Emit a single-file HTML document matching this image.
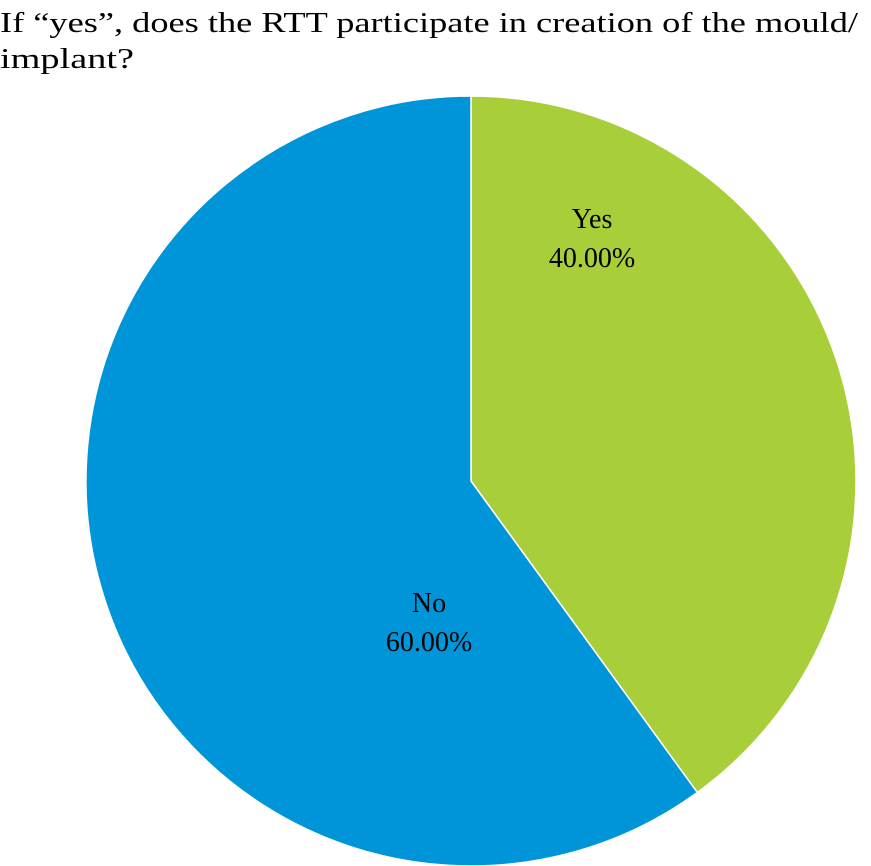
<!DOCTYPE html>
<html><head><meta charset="utf-8"><style>
html,body{margin:0;padding:0;background:#fff;width:871px;height:866px;overflow:hidden}
svg{display:block}
text{font-family:"Liberation Serif",serif}
</style></head><body>
<svg id="chart" width="871" height="866">
<text x="0" y="32" font-size="28" textLength="858" lengthAdjust="spacingAndGlyphs" fill="#000">If “yes”, does the RTT participate in creation of the mould/</text>
<text x="0" y="68" font-size="28" textLength="134" lengthAdjust="spacingAndGlyphs" fill="#000">implant?</text>
<g id="slices"></g>
</svg>
<script>
const categories = ["Yes", "No"];
const values = [40, 60];
const labels = ["40.00%", "60.00%"];
const colors = ["#a8cf3a", "#0095d9"];
const cx = 471, cy = 481, r = 385;
const labelPos = [[592, 228], [429, 612]];
const g = document.getElementById('slices');
const ns = 'http://www.w3.org/2000/svg';
const total = values.reduce((a,b)=>a+b,0);
let start = 0;
values.forEach((v,i)=>{
  const a0 = start/total*2*Math.PI, a1 = (start+v)/total*2*Math.PI;
  start += v;
  const x0 = cx + r*Math.sin(a0), y0 = cy - r*Math.cos(a0);
  const x1 = cx + r*Math.sin(a1), y1 = cy - r*Math.cos(a1);
  const large = (a1-a0) > Math.PI ? 1 : 0;
  const p = document.createElementNS(ns,'path');
  p.setAttribute('d', `M${cx},${cy} L${x0},${y0} A${r},${r} 0 ${large} 1 ${x1},${y1} Z`);
  p.setAttribute('fill', colors[i]);
  p.setAttribute('stroke', '#fff');
  p.setAttribute('stroke-width', '1.5');
  
  
  g.appendChild(p);
});
values.forEach((v,i)=>{
  const lx = labelPos[i][0], ly = labelPos[i][1];
  const t1 = document.createElementNS(ns,'text');
  t1.setAttribute('x', lx); t1.setAttribute('y', ly);
  t1.setAttribute('text-anchor','middle'); t1.setAttribute('font-size','28');
  t1.textContent = categories[i];
  
  
  g.appendChild(t1);
  const t2 = document.createElementNS(ns,'text');
  t2.setAttribute('x', lx); t2.setAttribute('y', ly + 39);
  t2.setAttribute('text-anchor','middle'); t2.setAttribute('font-size','28');
  t2.textContent = labels[i];
  
  
  g.appendChild(t2);
});
</script>
</body></html>
